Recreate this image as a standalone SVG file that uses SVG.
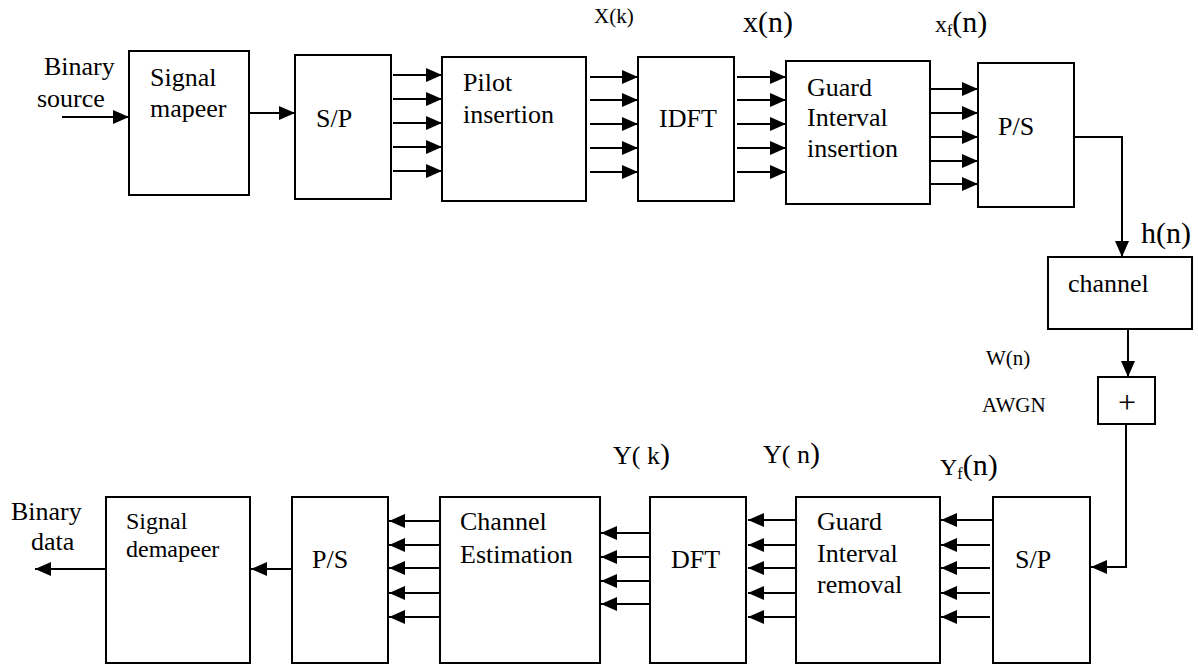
<svg xmlns="http://www.w3.org/2000/svg" width="1198" height="665" viewBox="0 0 1198 665">
<style>
.box{fill:#fff;stroke:#000;stroke-width:2}
.ln{fill:none;stroke:#000;stroke-width:2}
text{font-family:'Liberation Serif',Tinos,'Times New Roman','Nimbus Roman','DejaVu Serif',serif;font-size:26px;fill:#000}
.s{font-size:21px}
.b{font-size:30px}
.m{font-size:24px}
.p{font-size:32px}
</style>
<defs>
<marker id="ah" markerUnits="userSpaceOnUse" markerWidth="16" markerHeight="14" refX="16" refY="7" orient="auto" viewBox="0 0 16 14">
<path d="M0,0 L16,7 L0,14 z" fill="#000"/>
</marker>
</defs>
<rect width="1198" height="665" fill="#fff"/>

<g id="connectors">
<line class="ln" x1="62" y1="117" x2="129" y2="117" marker-end="url(#ah)"/>
<line class="ln" x1="249" y1="113" x2="295" y2="113" marker-end="url(#ah)"/>
<g>
<line class="ln" x1="393" y1="75" x2="442" y2="75" marker-end="url(#ah)"/>
<line class="ln" x1="393" y1="99" x2="442" y2="99" marker-end="url(#ah)"/>
<line class="ln" x1="393" y1="123" x2="442" y2="123" marker-end="url(#ah)"/>
<line class="ln" x1="393" y1="147" x2="442" y2="147" marker-end="url(#ah)"/>
<line class="ln" x1="393" y1="171" x2="442" y2="171" marker-end="url(#ah)"/>
</g>
<g>
<line class="ln" x1="590" y1="77" x2="638" y2="77" marker-end="url(#ah)"/>
<line class="ln" x1="590" y1="100" x2="638" y2="100" marker-end="url(#ah)"/>
<line class="ln" x1="590" y1="124" x2="638" y2="124" marker-end="url(#ah)"/>
<line class="ln" x1="590" y1="148" x2="638" y2="148" marker-end="url(#ah)"/>
<line class="ln" x1="590" y1="172" x2="638" y2="172" marker-end="url(#ah)"/>
</g>
<g>
<line class="ln" x1="737" y1="77" x2="786" y2="77" marker-end="url(#ah)"/>
<line class="ln" x1="737" y1="100" x2="786" y2="100" marker-end="url(#ah)"/>
<line class="ln" x1="737" y1="124" x2="786" y2="124" marker-end="url(#ah)"/>
<line class="ln" x1="737" y1="148" x2="786" y2="148" marker-end="url(#ah)"/>
<line class="ln" x1="737" y1="172" x2="786" y2="172" marker-end="url(#ah)"/>
</g>
<g>
<line class="ln" x1="928" y1="89" x2="978" y2="89" marker-end="url(#ah)"/>
<line class="ln" x1="928" y1="113" x2="978" y2="113" marker-end="url(#ah)"/>
<line class="ln" x1="928" y1="137" x2="978" y2="137" marker-end="url(#ah)"/>
<line class="ln" x1="928" y1="161" x2="978" y2="161" marker-end="url(#ah)"/>
<line class="ln" x1="928" y1="184" x2="978" y2="184" marker-end="url(#ah)"/>
</g>
<polyline class="ln" points="1074,137 1122,137 1122,257" marker-end="url(#ah)"/>
<line class="ln" x1="1128" y1="329" x2="1128" y2="377" marker-end="url(#ah)"/>
<polyline class="ln" points="1126,424 1126,567 1091,567" marker-end="url(#ah)"/>
<g>
<line class="ln" x1="993" y1="520" x2="941" y2="520" marker-end="url(#ah)"/>
<line class="ln" x1="990" y1="545" x2="941" y2="545" marker-end="url(#ah)"/>
<line class="ln" x1="990" y1="568" x2="941" y2="568" marker-end="url(#ah)"/>
<line class="ln" x1="990" y1="593" x2="941" y2="593" marker-end="url(#ah)"/>
<line class="ln" x1="990" y1="617" x2="941" y2="617" marker-end="url(#ah)"/>
</g>
<g>
<line class="ln" x1="796" y1="520" x2="748" y2="520" marker-end="url(#ah)"/>
<line class="ln" x1="796" y1="545" x2="748" y2="545" marker-end="url(#ah)"/>
<line class="ln" x1="796" y1="568" x2="748" y2="568" marker-end="url(#ah)"/>
<line class="ln" x1="796" y1="593" x2="748" y2="593" marker-end="url(#ah)"/>
<line class="ln" x1="796" y1="617" x2="748" y2="617" marker-end="url(#ah)"/>
</g>
<g>
<line class="ln" x1="650" y1="533" x2="601" y2="533" marker-end="url(#ah)"/>
<line class="ln" x1="650" y1="557" x2="601" y2="557" marker-end="url(#ah)"/>
<line class="ln" x1="650" y1="581" x2="601" y2="581" marker-end="url(#ah)"/>
<line class="ln" x1="650" y1="604" x2="601" y2="604" marker-end="url(#ah)"/>
</g>
<g>
<line class="ln" x1="440" y1="521" x2="389" y2="521" marker-end="url(#ah)"/>
<line class="ln" x1="440" y1="545" x2="389" y2="545" marker-end="url(#ah)"/>
<line class="ln" x1="440" y1="568" x2="389" y2="568" marker-end="url(#ah)"/>
<line class="ln" x1="440" y1="593" x2="389" y2="593" marker-end="url(#ah)"/>
<line class="ln" x1="440" y1="617" x2="389" y2="617" marker-end="url(#ah)"/>
</g>
<line class="ln" x1="292" y1="569" x2="251" y2="569" marker-end="url(#ah)"/>
<line class="ln" x1="106" y1="569" x2="35" y2="569" marker-end="url(#ah)"/>
</g>

<g id="label-binary-source"><text x="44" y="75">Binary</text><text x="37" y="107">source</text></g>
<g id="signal-mapper"><rect class="box" x="129" y="51" width="120" height="144"/><text x="150" y="86">Signal</text><text x="150" y="117">mapeer</text></g>
<g id="sp-top"><rect class="box" x="295" y="55" width="96" height="144"/><text x="316" y="127">S/P</text></g>
<g id="pilot-insertion"><rect class="box" x="442" y="57" width="144" height="144"/><text x="463" y="91">Pilot</text><text x="463" y="123">insertion</text></g>
<g id="label-xk"><text class="s" x="594" y="23">X(k)</text></g>
<g id="idft"><rect class="box" x="638" y="57" width="96" height="144"/><text x="659" y="127">IDFT</text></g>
<g id="label-xn"><text class="b" x="743" y="32">x(n)</text></g>
<g id="guard-insertion"><rect class="box" x="786" y="61" width="144" height="143"/><text x="807" y="96">Guard</text><text x="807" y="126">Interval</text><text x="807" y="157">insertion</text></g>
<g id="label-xfn"><text x="935" y="32"><tspan font-size="24">x</tspan><tspan font-size="16" dy="4">f</tspan><tspan font-size="30" dy="-4">(n)</tspan></text></g>
<g id="ps-top"><rect class="box" x="978" y="63" width="96" height="144"/><text x="998" y="135">P/S</text></g>
<g id="label-hn"><text class="b" x="1141" y="243">h(n)</text></g>
<g id="channel"><rect class="box" x="1048" y="257" width="144" height="72"/><text x="1068" y="292">channel</text></g>
<g id="label-wn"><text class="s" x="986" y="365">W(n)</text></g>
<g id="label-awgn"><text class="s" x="982" y="412">AWGN</text></g>
<g id="adder"><rect class="box" x="1098" y="377" width="57" height="47"/><text class="p" x="1127" y="413" text-anchor="middle">+</text></g>

<g id="sp-bottom"><rect class="box" x="993" y="497" width="97" height="166"/><text x="1015" y="568">S/P</text></g>
<g id="label-yfn"><text x="940" y="475"><tspan font-size="24">Y</tspan><tspan font-size="16" dy="4">f</tspan><tspan font-size="30" dy="-4">(n)</tspan></text></g>
<g id="guard-removal"><rect class="box" x="796" y="497" width="144" height="166"/><text x="817" y="530">Guard</text><text x="817" y="562">Interval</text><text x="817" y="593">removal</text></g>
<g id="label-yn"><text x="763" y="463">Y( n<tspan font-size="30">)</tspan></text></g>
<g id="dft"><rect class="box" x="650" y="497" width="96" height="166"/><text x="671" y="568">DFT</text></g>
<g id="label-yk"><text x="613" y="464">Y( k<tspan font-size="30">)</tspan></text></g>
<g id="channel-estimation"><rect class="box" x="440" y="497" width="160" height="166"/><text x="460" y="530">Channel</text><text x="460" y="563">Estimation</text></g>
<g id="ps-bottom"><rect class="box" x="292" y="497" width="96" height="166"/><text x="312" y="568">P/S</text></g>
<g id="signal-demapper"><rect class="box" x="106" y="497" width="144" height="166"/><text class="m" x="126" y="529">Signal</text><text class="m" x="126" y="557">demapeer</text></g>
<g id="label-binary-data"><text x="11" y="520">Binary</text><text x="31" y="550">data</text></g>
</svg>
